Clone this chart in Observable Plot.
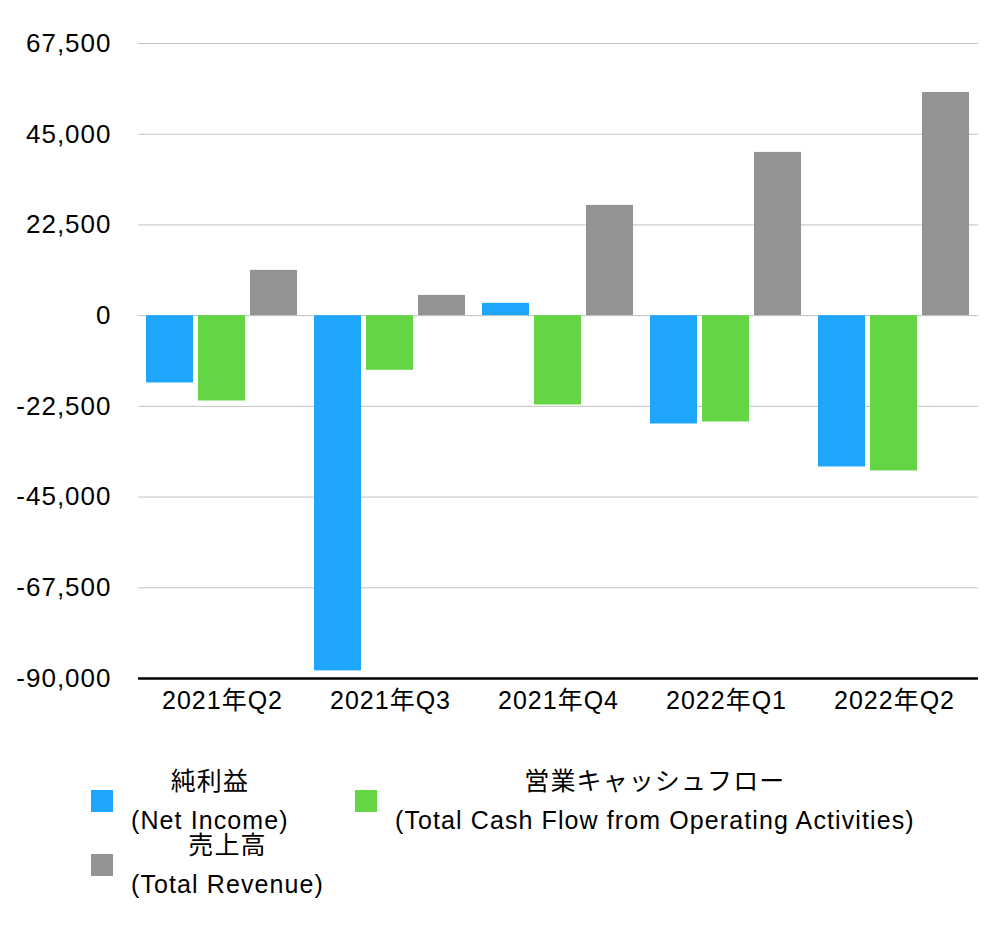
<!DOCTYPE html>
<html>
<head>
<meta charset="utf-8">
<script src="https://cdn.jsdelivr.net/npm/d3@7"></script>
<script src="https://cdn.jsdelivr.net/npm/@observablehq/plot@0.6"></script>
<style>
  body { margin: 0; background: #fff; font-family: "Liberation Sans", "Noto Sans CJK JP", sans-serif; }
  #chart svg { display: block; }
  #legend { position: relative; height: 204px; width: 1002px; }
  .item { position: absolute; display: flex; align-items: center; }
  .sw { width: 22px; height: 22px; flex: none; }
  .lbl { margin-left: 18px; text-align: center; font-size: 25px; letter-spacing: 1.1px; color: #000; white-space: nowrap; }
  .lbl div { line-height: 25px; height: 25px; }
  .lbl div + div { margin-top: 14px; }
</style>
</head>
<body>
<div id="chart"></div>
<div id="legend"></div>
<script>
// ---- data ----
const quarters = ["2021年Q2", "2021年Q3", "2021年Q4", "2022年Q1", "2022年Q2"];
const seriesIds = ["netIncome", "operatingCashFlow", "totalRevenue"];
const seriesJa = ["純利益", "営業キャッシュフロー", "売上高"];
const seriesEn = ["(Net Income)", "(Total Cash Flow from Operating Activities)", "(Total Revenue)"];
const seriesColors = ["#1ea5fc", "#64d645", "#939393"];
const netIncome = [-16700, -88110, 3050, -26870, -37530];
const operatingCashFlow = [-21170, -13560, -22160, -26380, -38520];
const totalRevenue = [11230, 5030, 27350, 40490, 55360];
const yTicks = [-90000, -67500, -45000, -22500, 0, 22500, 45000, 67500];

// ---- table ----
const seriesValues = [netIncome, operatingCashFlow, totalRevenue];
const rows = quarters.flatMap((q, i) =>
  seriesIds.map((s, k) => ({ quarter: q, series: s, value: seriesValues[k][i] }))
);

const fontStack = "'Liberation Sans', 'Noto Sans CJK JP', sans-serif";
const fmt = d3.format(",");
const yFormat = d => fmt(d).replace("\u2212", "-");

const chart = Plot.plot({
  width: 1002,
  height: 730,
  marginTop: 43,
  marginBottom: 52,
  marginLeft: 138,
  marginRight: 24,
  style: { fontFamily: fontStack, fontSize: "25px", color: "#000", background: "#fff", letterSpacing: "1px" },
  fx: { domain: quarters, padding: 0, label: null },
  x: { domain: seriesIds, paddingInner: 0.096, paddingOuter: 0.163, axis: null },
  y: { domain: [-90000, 67500], axis: null },
  color: { domain: seriesIds, range: seriesColors },
  marks: [
    Plot.gridY(yTicks.filter(t => t > -90000), { stroke: "#c2c2c2", strokeOpacity: 1, strokeWidth: 1 }),
    Plot.barY(rows, { fx: "quarter", x: "series", y: "value", fill: "series" }),
    Plot.ruleY([-90000], { stroke: "#000", strokeWidth: 2.5 }),
    Plot.axisY({ ticks: yTicks, tickSize: 0, tickPadding: 27, tickFormat: yFormat, fontSize: 26, fill: "#000", label: null }),
    Plot.axisFx({ anchor: "bottom", tickSize: 0, tickPadding: 13, fontSize: 25, fill: "#000", label: null })
  ]
});
document.getElementById("chart").append(chart);

// ---- legend ----
const legendPos = [[91, 39], [355, 39], [91, 103]];
const legend = document.getElementById("legend");
seriesIds.forEach((s, k) => {
  const item = document.createElement("div");
  item.className = "item";
  item.style.left = legendPos[k][0] + "px";
  item.style.top = legendPos[k][1] + "px";
  const sw = document.createElement("div");
  sw.className = "sw";
  sw.style.background = seriesColors[k];
  const lbl = document.createElement("div");
  lbl.className = "lbl";
  const l1 = document.createElement("div");
  l1.textContent = seriesJa[k];
  const l2 = document.createElement("div");
  l2.textContent = seriesEn[k];
  lbl.append(l1, l2);
  item.append(sw, lbl);
  legend.append(item);
});
</script>
</body>
</html>
